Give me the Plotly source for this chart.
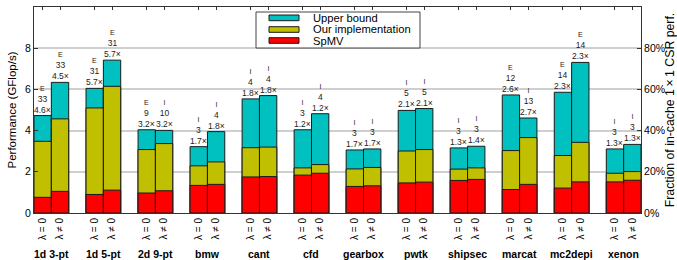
import plotly.graph_objects as go

groups = ["1d 3-pt", "1d 5-pt", "2d 9-pt", "bmw", "cant", "cfd", "gearbox",
          "pwtk", "shipsec", "marcat", "mc2depi", "xenon"]
variants = ["λ = 0", "λ ≠ 0"]

spmv = [[0.76, 1.05], [0.90, 1.11], [0.97, 1.08], [1.34, 1.39], [1.75, 1.77], [1.84, 1.93],
        [1.29, 1.32], [1.46, 1.50], [1.58, 1.63], [1.14, 1.39], [1.21, 1.51], [1.51, 1.59]]
ours = [[3.48, 4.57], [5.10, 6.15], [3.08, 3.37], [2.29, 2.48], [3.17, 3.20], [2.19, 2.35],
        [2.14, 2.21], [3.01, 3.08], [2.13, 2.19], [3.03, 3.66], [2.79, 3.43], [1.93, 2.01]]
upper = [[4.73, 6.34], [6.05, 7.42], [4.04, 4.01], [3.22, 3.95], [5.54, 5.70], [4.04, 4.82],
         [3.06, 3.11], [4.98, 5.07], [3.16, 3.24], [5.73, 4.61], [5.86, 7.31], [3.11, 3.33]]
kind = [["E", "E"], ["E", "E"], ["E", "I"], ["I", "I"], ["I", "I"], ["I", "I"],
        ["I", "I"], ["I", "I"], ["I", "I"], ["E", "I"], ["E", "E"], ["I", "I"]]
count = [[33, 33], [31, 31], [9, 10], [3, 4], [4, 4], [3, 4],
         [3, 3], [5, 5], [3, 3], [12, 13], [14, 14], [3, 3]]
speedup = [["4.6×", "4.5×"], ["5.7×", "5.7×"], ["3.2×", "3.2×"], ["1.7×", "1.8×"],
           ["1.8×", "1.8×"], ["1.2×", "1.2×"], ["1.7×", "1.7×"], ["2.1×", "2.1×"],
           ["1.3×", "1.4×"], ["2.6×", "2.7×"], ["2.3×", "2.3×"], ["1.3×", "1.3×"]]

series = [("Upper bound", upper, "#00C0C0"),
          ("Our implementation", ours, "#C0C000"),
          ("SpMV", spmv, "#FF0000")]

FONT = "Liberation Sans, Arial, sans-serif"
n = len(groups)
bw = 1 / 3
xs = [i + (j - 0.5) * bw for i in range(n) for j in range(2)]


def flat(a):
    return [v for row in a for v in row]


fig = go.Figure()
for name, vals, color in series:
    fig.add_bar(x=xs, y=flat(vals), width=bw, name=name, showlegend=False,
                marker=dict(color=color, line=dict(color="#1a1a1a", width=1)))

# invisible trace to anchor top x axis and right y axis
fig.add_scatter(x=[xs[0]], y=[0], xaxis="x2", yaxis="y2", mode="markers",
                marker=dict(opacity=0), showlegend=False, hoverinfo="skip")

annotations = []
tops = flat(upper)
kinds = flat(kind)
counts = flat(count)
spds = flat(speedup)
for k, x in enumerate(xs):
    annotations.append(dict(
        x=x, y=tops[k], xref="x", yref="y", yanchor="bottom", showarrow=False,
        text=f"<span style='font-size:7px'>{kinds[k]}</span><br>{counts[k]}<br>{spds[k]}",
        font=dict(size=8.5, family=FONT, color="#222"), yshift=-1))
for i, g in enumerate(groups):
    annotations.append(dict(
        x=i, y=-0.199, xref="x", yref="paper", yanchor="middle", showarrow=False,
        text=f"<b>{g}</b>", font=dict(size=10.5, family=FONT, color="black")))

# manual legend (paper coordinates)
L, W, B, H = 34, 607, 213, 206


def px(x):
    return (x - L) / W


def py(y):
    return (B - y) / H


shapes = [dict(type="rect", xref="paper", yref="paper", x0=px(256), x1=px(420),
               y0=py(48), y1=py(12), fillcolor="white", line=dict(color="#444", width=1),
               layer="above")]
sw_rows = [(15, 20.7), (26.7, 32.3), (37.7, 43.3)]
for (name, _, color), (t, b) in zip(series, sw_rows):
    shapes.append(dict(type="rect", xref="paper", yref="paper", x0=px(269), x1=px(299),
                       y0=py(b), y1=py(t), fillcolor=color,
                       line=dict(color="#1a1a1a", width=1), layer="above"))
    annotations.append(dict(x=px(311), y=py((t + b) / 2), xref="paper", yref="paper",
                            xanchor="left", yanchor="middle", showarrow=False, text=name,
                            font=dict(size=11.2, family=FONT, color="black")))

xrange = [-bw, n - 1 + bw]
fig.update_layout(
    width=677, height=260, autosize=False,
    margin=dict(l=34, r=36, t=7, b=47),
    paper_bgcolor="white", plot_bgcolor="white",
    barmode="overlay",
    font=dict(family=FONT, color="black", size=10),
    xaxis=dict(range=xrange, tickvals=xs, ticktext=variants * n, tickangle=-90,
               ticks="", showline=True, linecolor="#333", linewidth=1, mirror=True,
               showgrid=False, zeroline=False, tickfont=dict(size=10), automargin=False),
    xaxis2=dict(range=xrange, overlaying="x", side="top", tickvals=xs, ticks="inside",
                ticklen=3, tickcolor="#333", showticklabels=False, showgrid=False,
                zeroline=False, showline=False, automargin=False),
    yaxis=dict(range=[0, 10], tickvals=[0, 2, 4, 6, 8], ticks="inside", ticklen=4,
               tickcolor="#333", showline=True, linecolor="#333", linewidth=1,
               showgrid=True, gridcolor="#cfcfcf", gridwidth=1.5, zeroline=False,
               title=dict(text="Performance (GFlop/s)", font=dict(size=11.5), standoff=6),
               tickfont=dict(size=10.5), automargin=False),
    yaxis2=dict(range=[0, 1], overlaying="y", side="right", tickvals=[0, 0.2, 0.4, 0.6, 0.8],
                tickformat=".0%", ticks="inside", ticklen=4, tickcolor="#333",
                showline=True, linecolor="#333", linewidth=1, showgrid=False, zeroline=False,
                title=dict(text="Fraction of in-cache 1\u2009×\u20091 CSR perf.",
                           font=dict(size=12.3), standoff=4),
                tickfont=dict(size=10.5), automargin=False),
    annotations=annotations,
    shapes=shapes,
)

fig.write_html("out.html", post_script="document.body.style.margin='0px';",
               config={"displayModeBar": False})
